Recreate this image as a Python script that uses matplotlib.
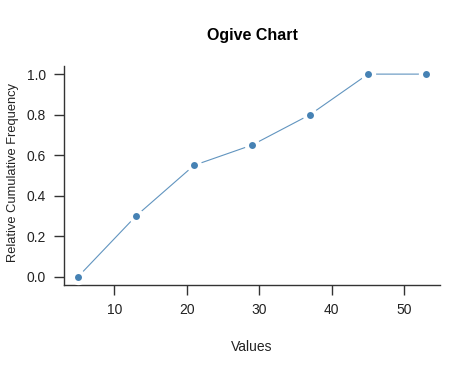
import matplotlib
matplotlib.use("Agg")
import matplotlib.pyplot as plt

values = [5, 13, 21, 29, 37, 45, 53]
rel_cum_freq = [0.0, 0.30, 0.55, 0.65, 0.80, 1.0, 1.0]
xticks = [10, 20, 30, 40, 50]
yticks = [0.0, 0.2, 0.4, 0.6, 0.8, 1.0]

plt.rcParams['font.family'] = ['Liberation Sans', 'DejaVu Sans']

fig = plt.figure(figsize=(4.74, 3.65), dpi=100)
W, H = 474, 365
ax = fig.add_axes([64 / W, 1 - 285 / H, (440 - 64) / W, (285 - 66) / H])

color = '#4682B4'
ax.plot(values, rel_cum_freq, color=color, lw=0.8, zorder=2, alpha=0.85)
ax.plot(values, rel_cum_freq, 'o', ms=11, color='white', mec='none', zorder=3)
ax.plot(values, rel_cum_freq, 'o', ms=5, color=color, mec='none', zorder=4)

ax.set_xlim(3.08, 54.92)
ax.set_ylim(-0.04, 1.04)
ax.set_xticks(xticks)
ax.set_yticks(yticks)
ax.set_xticklabels([str(v) for v in xticks])
ax.set_yticklabels([f"{v:.1f}" for v in yticks])

for s in ['top', 'right']:
    ax.spines[s].set_visible(False)
for s in ['left', 'bottom']:
    ax.spines[s].set_color('#333333')
    ax.spines[s].set_linewidth(1.0)

ax.tick_params(direction='out', length=7, width=1.0, color='#333333',
               labelsize=10, labelcolor='#222222', pad=6)

ax.set_xlabel('Values', fontsize=10, color='#222222')
ax.xaxis.set_label_coords(0.5, -(340 - 285) / 219, transform=ax.transAxes)
ax.set_ylabel('Relative Cumulative Frequency', fontsize=9.3, color='#222222',
              va='center')
ax.yaxis.set_label_coords((13 - 64) / 376, (285 - 173) / 219, transform=ax.transAxes)
ax.set_title('Ogive Chart', fontsize=11.5, fontweight='bold', pad=19)

fig.savefig('out.png', dpi=100, facecolor='white')
